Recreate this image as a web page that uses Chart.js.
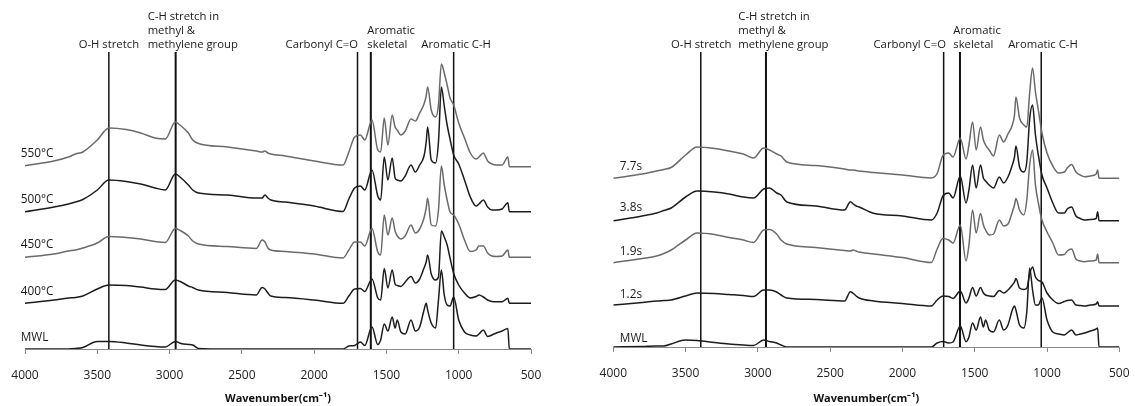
<!DOCTYPE html>
<html>
<head>
<meta charset="utf-8">
<script src="https://cdn.jsdelivr.net/npm/chart.js@4.4.0/dist/chart.umd.min.js"></script>
<style>
  html, body { margin: 0; padding: 0; background: #fff; }
  #wrap { position: relative; width: 1135px; height: 406px; }
  .panel { position: absolute; top: 0; height: 406px; }
  #p1 { left: 0; width: 567px; }
  #p2 { left: 567px; width: 568px; }
</style>
</head>
<body>
<div id="wrap">
  <div class="panel" id="p1"><canvas id="leftChart"></canvas></div>
  <div class="panel" id="p2"><canvas id="rightChart"></canvas></div>
</div>
<script>
// --- 1. data (wavenumber grid, offset absorbance of each stacked spectrum) ---
const wn = [4000,3800,3700,3650,3600,3500,3420,3300,3200,3100,3030,2960,2920,2870,2840,2800,2600,2400,2360,2340,
  2320,2300,2200,2000,1800,1760,1720,1680,1650,1600,1560,1540,1515,1490,1460,1440,1425,1400,1370,1330,
  1300,1270,1240,1225,1215,1190,1160,1140,1120,1100,1080,1060,1035,1000,960,920,880,860,830,800,
  770,740,700,660,650,640,600,500];

// left panel: pyrolysis temperature
const t550 = [183.3,188,192,195,197,209,221,219.5,216,211,210,227,223,216,209,205.5,202,198,197,198,
  196,195,193,188,184,197,212,214,209,229,199,197,231,204,234,222,219,214,218,230,
  228,236,245,253,262,239,232,244,285,276,264,251,244,226,211,196,190,192,196,188,
  185,184,184,192,182.5,182.3,182.3,182.3];
const t500 = [137.3,142,145,147,149.5,159,169,167.5,165,161,159,175,171,164,159,156,154,151,151,154,
  151,149,147,143,137.5,150,161,163,159,179,153,149,192,169,191,171,169,168,173,184,
  177,184,193,207,222,189,186,207,262,243,224,210,194,185,169,152,143,145,149,142,
  139,139,140,146.3,137.3,137.3,137.3,137.3];
const t450 = [91.7,95,98,99,101,106,112.5,111.5,110,107.5,106.5,120.5,118,113,108,105,102.5,100.5,109,107,
  101,99,97.5,95,91,99,107,107,103,120.5,97,94,134,114,131,118,113,110,113,124,
  116,120,131,141,151,124,123,139,183,164,149,137,134,125,109,97.5,99,103,103,96,
  93,92.5,93,99,91.7,91.7,91.7,91.7];
const t400 = [45.7,49,51,51.5,53,60,64,63.5,62,60,59.5,69,67,63,61.5,59,56.5,54,61.5,60,
  56,53,51.5,49,45.7,53,60,60.5,57.5,70,51,49,80.5,61,79,65,63.5,62.5,67,72.5,
  66,70,81,87,94,75,69,72,118,112,104,91,75.5,64,56,51,52.5,54,52,49,
  47.5,47.3,47.3,50.7,45.7,45.7,45.7,45.7];
const mwlA = [0,0,0,0.5,1.5,7.5,7.5,6,4,2.5,2,7.5,5.5,4.5,4,0.5,0,0,0,0,
  0,0,0,0,0,3,3.5,7,3.5,22,4.5,9,25,18,32,21,29,17,15,29,
  18,22,39,45.7,39,26,21,49,79,54,44,43,52,29,17,14,13,15,19,12.5,
  14,16,18,20.5,0,0,0,0];

// right panel: residence time
const s77 = [168.7,173,176,177.5,179.5,192,200,198.5,196,193,189,199,197,193,191,185,181.5,178,177,177,
  176.5,176,174.5,172,169,173.5,191.5,194,190,208.7,188,202,225,197,220,207,202,197,191,212,
  205,213,222,232,250,229,222,220,254,279,255,237,214,194,181,174,175,179,182.5,175,
  172,170.3,171,173,177,168.7,168.7,168.7];
const s38 = [126.3,131,134,136.5,139,150,156,155,153,150,149,158,159,154,152,145,141,137,145.3,143,
  141,140,133.7,131,127,134,151,154,149,171,144,157,182,159,182,169,166,162,159,170,
  164,170,182,190,201,180,175,185,228,242,212,192,172,159,144,134,134,138,140,131,
  128.5,127,127.5,128.5,135.3,126.3,126.3,126.3];
const s19 = [84.3,88.5,91,93.5,97,107,114,112.5,109.5,107,104.5,117,117.5,113,107,103,99.5,96.5,96,97,
  96,95,93,89.5,84.5,98,108.5,107,104,122,86,102,137,114,133.5,122,117,112,113,127,
  121,123,135,142,148.5,137,132,147,182,197,162,144,127,115,104,92,92.5,96,98,88,
  86,85.3,86,87,93,84.3,84.3,84.3];
const s12 = [42,44.5,46,46.5,47,51,54,53.5,52.5,51.5,50.5,57,57,55,52,49,47.5,46,55.3,53.5,
  51,49,46,43.5,41,47,51,50.5,48.5,56,44,49,59.5,51,59.5,54,52,51,50.5,56.5,
  54,57,62,65,68.5,59,57.5,58.7,73,80,70,66.5,65,54,47,43.5,45.5,46.5,47,42,
  41.5,41,42,43,45.3,41,41,41];
const mwlB = [0,0.5,1,1,3,7,6.5,4.5,3,2,1.5,7,5.5,4,2,0,0,0,0,0,
  0,0,0,0,0,4,5.5,4,5,21,5.3,10,24,17,30,20,27,17,15,27,
  17,22,37,41,37,22,19,35,79,57,42,42,49,27,15,13,12,14,17,12,
  13,14,16,18,19,0,0,0];

const leftNames = ['550°C', '500°C', '450°C', '400°C', 'MWL'];
const rightNames = ['7.7s', '3.8s', '1.9s', '1.2s', 'MWL'];
const markLabels = [['O-H stretch'], ['C-H stretch in', 'methyl &', 'methylene group'], ['Carbonyl C=O'], ['Aromatic', 'skeletal'], ['Aromatic C-H']];
const leftMarks = [3420, 2958, 1700, 1608, 1035];
const rightMarks = [3395, 2944, 1715, 1602, 1040];
const xTicks = [4000, 3500, 3000, 2500, 2000, 1500, 1000, 500];

// --- 2. text plugin (peak notes + sample names) ---
const textPlugin = {
  id: 'ftirText',
  afterDraw(chart, args, opts) {
    const ctx = chart.ctx, xs = chart.scales.x, ys = chart.scales.y;
    ctx.save();
    ctx.fillStyle = '#1a1a1a';
    ctx.font = '11.3px "Open Sans"';
    ctx.textBaseline = 'alphabetic';
    opts.marks.forEach((m, i) => {
      const n = opts.notes[i];
      const lines = markLabels[i];
      ctx.textAlign = n.align;
      const px = xs.getPixelForValue(m) + n.dx;
      lines.forEach((t, k) => ctx.fillText(t, px, 47.5 - (lines.length - 1 - k) * 14));
    });
    ctx.font = '11.8px "Open Sans"';
    ctx.textAlign = 'left';
    ctx.textBaseline = 'middle';
    opts.names.forEach((name, i) => {
      const first = chart.data.datasets[i].data[0].y;
      ctx.fillText(name, xs.getPixelForValue(4000) + opts.nameDx, ys.getPixelForValue(first) - opts.nameDy[i]);
    });
    ctx.restore();
  }
};

// --- 3. chart builder ---
const GREY = '#6a6a6a', BLACK = '#1c1c1c';

function buildChart(id, series, names, marks, notes, axisY, pad, nameDx, nameDy) {
  const yMax = axisY - 52;
  const colors = [GREY, BLACK, GREY, BLACK, BLACK];
  const datasets = series.map((s, i) => ({
    data: wn.map((w, k) => ({ x: w, y: s[k] })),
    borderColor: colors[i], borderWidth: 1.5, pointRadius: 0,
    cubicInterpolationMode: 'monotone', fill: false
  }));
  marks.forEach((m, i) => {
    datasets.push({
      data: [{ x: m, y: 0 }, { x: m, y: yMax }],
      borderColor: '#111', borderWidth: (i === 1 || i === 3) ? 2 : 1.5,
      pointRadius: 0, tension: 0, fill: false
    });
  });
  return new Chart(document.getElementById(id), {
    type: 'line',
    data: { datasets },
    plugins: [textPlugin],
    options: {
      responsive: true, maintainAspectRatio: false, animation: false,
      layout: { padding: { left: pad[0], right: pad[1], top: 52, bottom: 0 } },
      plugins: {
        legend: { display: false }, tooltip: { enabled: false },
        ftirText: { marks, notes, names, nameDx, nameDy }
      },
      scales: {
        x: {
          type: 'linear', reverse: true, min: 500, max: 4000,
          afterFit: s => { s.height = 406 - axisY; s.paddingLeft = 0; s.paddingRight = 0; },
          afterBuildTicks: s => { s.ticks = xTicks.map(v => ({ value: v })); },
          border: { color: '#8a8a8a', width: 1 },
          grid: { drawOnChartArea: false, color: '#8a8a8a', tickLength: 5 },
          ticks: {
            color: '#222', padding: 14, maxRotation: 0, autoSkip: false,
            font: { family: 'Open Sans', size: 12 },
            callback: v => String(v)
          },
          title: {
            display: true, text: 'Wavenumber(cm⁻¹)', color: '#111',
            font: { family: 'Open Sans', size: 11, weight: 'bold' },
            padding: { top: 0, bottom: 0.5 }
          }
        },
        y: { display: false, min: 0, max: yMax }
      }
    }
  });
}

buildChart('leftChart', [t550, t500, t450, t400, mwlA], leftNames, leftMarks, [
  { align: 'center', dx: 0 }, { align: 'left', dx: -28 }, { align: 'right', dx: 0.5 },
  { align: 'left', dx: -3.5 }, { align: 'center', dx: 2.5 }
], 349, [25, 36], -4.3, [12, 12.5, 13, 12, 11.5]);

buildChart('rightChart', [s77, s38, s19, s12, mwlB], rightNames, rightMarks, [
  { align: 'center', dx: 0.5 }, { align: 'left', dx: -27.7 }, { align: 'right', dx: 2.3 },
  { align: 'left', dx: -6.7 }, { align: 'center', dx: 1.7 }
], 347, [46.3, 15.7], 6.5, [11.6, 12.7, 11, 10.3, 8.7]);
</script>
</body>
</html>
